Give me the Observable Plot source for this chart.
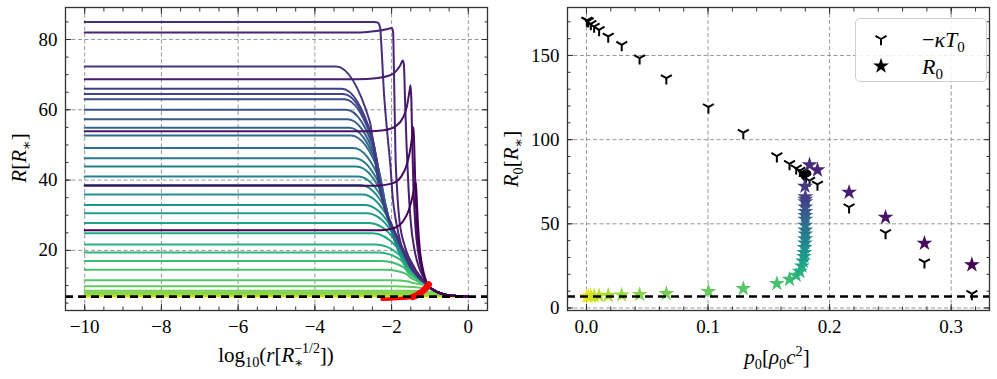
<!DOCTYPE html>
<html><head><meta charset="utf-8">
<script src="https://cdn.jsdelivr.net/npm/d3@7"></script>
<script src="https://cdn.jsdelivr.net/npm/@observablehq/plot@0.6"></script>
<style>
body{margin:0;background:#fff;}
#wrap{position:relative;width:997px;height:379px;font-family:"Liberation Serif","Times New Roman","DejaVu Serif",serif;color:#000;}
#wrap svg text{font-family:"Liberation Serif","Times New Roman","DejaVu Serif",serif !important;}
.panel{position:absolute;top:0;}
.lbl{position:absolute;font-size:21px;white-space:nowrap;line-height:1;}
.rot{transform:translate(-50%,-50%) rotate(-90deg);}
.ctr{transform:translate(-50%,-50%);}
sub,sup{font-size:0.68em;line-height:0;}
.stk{display:inline-flex;flex-direction:column;vertical-align:middle;line-height:1;font-size:0.66em;position:relative;top:-0.05em;}
#legend{position:absolute;left:855px;top:18px;width:130px;height:62px;border:1.5px solid #cfcfcf;border-radius:5px;background:rgba(255,255,255,0.85);}
#legend .row{position:absolute;left:0;height:24px;width:100%;}
#legend svg{position:absolute;left:13px;top:0;}
#legend span{position:absolute;left:66px;top:0px;font-size:22px;}
</style></head><body>
<div id="wrap"></div>
<script>
// ---------- data ----------
const p0 = [0.0003, 0.0014, 0.0036, 0.0063, 0.0104, 0.0179, 0.029, 0.0437, 0.0657, 0.1003, 0.129, 0.1566, 0.167, 0.1725, 0.1755, 0.1772, 0.1782, 0.1788, 0.1792, 0.1795, 0.1797, 0.1799, 0.18, 0.18, 0.18, 0.18, 0.18, 0.18, 0.18, 0.18, 0.18, 0.18, 0.1797, 0.1835, 0.190, 0.216, 0.246, 0.278, 0.317];
const R0 = [6.9, 6.95, 7.0, 7.1, 7.25, 7.45, 7.7, 8.0, 8.5, 9.8, 11.5, 14.5, 17.0, 19.4, 21.7, 24.9, 27.8, 30.6, 32.9, 35.9, 38.6, 41.0, 43.9, 46.2, 49.1, 52.7, 54.9, 57.3, 60.0, 63.0, 64.5, 66.0, 72.3, 85.0, 82.0, 68.7, 53.9, 38.4, 25.7];
const kappaT0 = [170.8, 170.4, 168.8, 167.2, 165.2, 161.3, 156.3, 148.4, 136.5, 119.3, 104.1, 90.2, 85.6, 83.0, 81.6, 80.7, 80.1, 79.7, 79.4, 79.2, 79.0, 78.9, 78.7, 78.6, 78.5, 78.4, 78.3, 78.2, 78.1, 78.0, 77.9, 77.8, 77.4, 75.7, 73.4, 59.9, 44.6, 27.2, 8.4];

// smooth profiles (indices 0..32): x where the plateau ends, and x at 75 %, 50 %, 25 % of the drop
const kneeX = [-0.8, -1.0, -1.2, -1.3, -1.4, -1.5, -1.6, -1.65, -1.75, -1.9, -2.0, -2.15, -2.25, -2.32, -2.4, -2.5, -2.58, -2.65, -2.7, -2.76, -2.82, -2.87, -2.92, -2.96, -3.0, -3.06, -3.1, -3.14, -3.18, -3.23, -3.26, -3.3, -3.45];
const drop75X = [-1.56, -1.63, -1.69, -1.74, -1.8, -1.88, -1.94, -2.0, -2.04, -2.1, -2.14, -2.17, -2.22, -2.25, -2.28, -2.32, -2.36, -2.39, -2.42, -2.46, -2.48, -2.5, -2.57];
const drop50X = [-1.45, -1.5, -1.55, -1.6, -1.65, -1.72, -1.78, -1.84, -1.88, -1.93, -1.97, -2.0, -2.04, -2.07, -2.1, -2.14, -2.17, -2.2, -2.23, -2.27, -2.29, -2.31, -2.37];
const drop25X = [-1.25, -1.3, -1.33, -1.36, -1.38, -1.42, -1.46, -1.5, -1.53, -1.56, -1.6, -1.62, -1.65, -1.67, -1.7, -1.73, -1.75, -1.77, -1.8, -1.83, -1.85, -1.87, -1.93];
const mergeR = 10.0;

// shared tail of all profiles
const tailX = [-1.05, -0.95, -0.8, -0.6, -0.4, -0.2, 0];
const tailR = [10.0, 9.0, 8.1, 7.4, 7.1, 6.95, 6.9];

// overshooting profiles (indices 33..38)
const spikeX = [
  [-10, -2.45, -2.36, -2.3, -2.27, -2.2, -2.1, -2.03, -1.97, -1.88, -1.75, -1.55, -1.3, -1.05],
  [-10, -2.8, -2.4, -2.1, -1.99, -1.96, -1.94, -1.92, -1.9, -1.86, -1.8, -1.65, -1.45, -1.25, -1.05],
  [-10, -2.9, -2.4, -2.1, -1.9, -1.78, -1.71, -1.68, -1.65, -1.61, -1.56, -1.5, -1.4, -1.28, -1.15, -1.05],
  [-10, -2.6, -2.2, -1.9, -1.7, -1.6, -1.53, -1.505, -1.485, -1.46, -1.43, -1.38, -1.3, -1.2, -1.05],
  [-10, -2.4, -2.0, -1.75, -1.6, -1.5, -1.45, -1.43, -1.41, -1.38, -1.34, -1.28, -1.18, -1.05],
  [-10, -2.3, -1.95, -1.7, -1.55, -1.45, -1.39, -1.37, -1.35, -1.32, -1.27, -1.2, -1.12, -1.05]
];
const spikeR = [
  [85, 85, 84.8, 83.5, 79, 65, 52, 44, 35, 28, 21.5, 16, 12.3, 10],
  [82, 82, 82.4, 83, 83.3, 82, 72, 60, 48, 38, 29, 21, 16, 12.3, 10],
  [68.7, 68.7, 69, 69.6, 70.8, 72.5, 74, 73, 63, 50, 38, 28, 20, 15, 12, 10],
  [53.9, 53.9, 54.2, 55.3, 57.8, 61, 65.5, 67, 63, 50, 38, 27, 19, 14, 10],
  [38.4, 38.4, 39.0, 41.0, 44.5, 49.5, 53.5, 55, 50, 38, 27, 19, 13.5, 10],
  [25.7, 25.7, 26.3, 28.3, 31.5, 35.5, 39.0, 39.4, 36, 29, 21, 15.5, 12, 10]
];

// red locus
const redThinX = [-2.25, -2.0, -1.75, -1.55, -1.42];
const redThinR = [6.1, 6.2, 6.35, 6.55, 6.8];
const redThickX = [-1.45, -1.35, -1.25, -1.15, -1.08, -1.03];
const redThickR = [6.75, 7.2, 7.9, 8.8, 9.6, 10.3];

const refLine = 6.85;

// axes ticks
const leftXMajor = [-10, -8, -6, -4, -2, 0];
const leftXMinor = d3.range(-10.5, 0.51, 0.5);
const leftYMajor = [20, 40, 60, 80];
const leftYMinor = d3.range(5, 89, 5);
const rightXMajor = [0, 0.1, 0.2, 0.3];
const rightXMinor = d3.range(-0.0, 0.331, 0.02);
const rightYMajor = [0, 50, 100, 150];
const rightYMinor = d3.range(0, 179, 10);

// ---------- build rows ----------
const N = R0.length;
const curveRows = [];
for (let i = 0; i < N; i++) {
  let xs = [], rs = [];
  if (i < kneeX.length) {
    const k = kneeX[i], r = R0[i];
    xs.push(-10, k); rs.push(r, r);
    const j = i - (kneeX.length - drop50X.length);
    if (j >= 0) {
      const h = r - mergeR;
      xs.push(drop75X[j], drop50X[j], drop25X[j]);
      rs.push(mergeR + 0.75 * h, mergeR + 0.5 * h, mergeR + 0.25 * h);
      tailX.forEach((x, t) => { xs.push(x); rs.push(tailR[t]); });
    } else {
      tailX.forEach((x, t) => {
        if (x > k + 0.1 && (tailR[t] < r || x === 0)) { xs.push(x); rs.push(Math.min(tailR[t], r)); }
      });
    }
  } else {
    const s = i - kneeX.length;
    xs = spikeX[s].slice(); rs = spikeR[s].slice();
    tailX.forEach((x, t) => { if (t > 0) { xs.push(x); rs.push(tailR[t]); } });
  }
  xs.forEach((x, t) => curveRows.push({i, x, R: rs[t]}));
}
const starRows = p0.map((p, i) => ({i, p, R: R0[i], k: kappaT0[i]}));
const redThin = redThinX.map((x, t) => ({x, R: redThinR[t]}));
const redThick = redThickX.map((x, t) => ({x, R: redThickR[t]}));

const colorSpec = {type: "linear", scheme: "viridis", domain: [0, N - 1], reverse: true};

const triDown = {draw(ctx, size) {
  const r = Math.sqrt(size / Math.PI);
  ctx.moveTo(0, 0); ctx.lineTo(0, r);
  ctx.moveTo(0, 0); ctx.lineTo(-r * 0.866, -r * 0.5);
  ctx.moveTo(0, 0); ctx.lineTo(r * 0.866, -r * 0.5);
}};

function axes(xMaj, xMin, yMaj, yMin, xFmt, yFmt) {
  const T = 6, t = 3.5, none = () => "";
  const m = [
    Plot.axisX(xMaj, {anchor: "bottom", tickSize: 0, tickPadding: 9, tickFormat: xFmt, label: null, fontSize: 19}),
    Plot.axisY(yMaj, {anchor: "left", tickSize: 0, tickPadding: 8, tickFormat: yFmt, label: null, fontSize: 19})
  ];
  for (const a of ["bottom", "top"]) {
    m.push(Plot.axisX(xMaj, {anchor: a, tickSize: -T, tickFormat: none, label: null, stroke: "#333"}));
    m.push(Plot.axisX(xMin, {anchor: a, tickSize: -t, tickFormat: none, label: null, stroke: "#333"}));
  }
  for (const a of ["left", "right"]) {
    m.push(Plot.axisY(yMaj, {anchor: a, tickSize: -T, tickFormat: none, label: null, stroke: "#333"}));
    m.push(Plot.axisY(yMin, {anchor: a, tickSize: -t, tickFormat: none, label: null, stroke: "#333"}));
  }
  return m;
}
const gridStyle = {stroke: "#8c8c8c", strokeOpacity: 1, strokeWidth: 0.9, strokeDasharray: "4,2.5"};
const minus = d => (d < 0 ? "\u2212" + Math.abs(d) : String(d));
const plotStyle = {fontFamily: "'Liberation Serif', 'DejaVu Serif', serif", fontSize: "19px", background: "transparent", color: "#000"};

const left = Plot.plot({
  width: 500, height: 379,
  marginLeft: 65, marginRight: 13, marginTop: 7, marginBottom: 69,
  style: plotStyle,
  x: {domain: [-10.5, 0.5]},
  y: {domain: [2.9, 89.1]},
  color: colorSpec,
  marks: [
    Plot.gridX(leftXMajor, gridStyle),
    Plot.gridY(leftYMajor, gridStyle),
    Plot.line(curveRows, {x: "x", y: "R", z: "i", stroke: "i", strokeWidth: 2, curve: "monotone-x"}),
    Plot.line(redThin, {x: "x", y: "R", stroke: "#ff0000", strokeWidth: 3.5, strokeLinecap: "round", curve: "monotone-x"}),
    Plot.line(redThick, {x: "x", y: "R", stroke: "#ff0000", strokeWidth: 6.5, strokeLinecap: "round", curve: "monotone-x"}),
    Plot.ruleY([refLine], {stroke: "#000", strokeWidth: 2.6, strokeDasharray: "8,5"}),
    Plot.frame({stroke: "#333", strokeWidth: 1.3}),
    ...axes(leftXMajor, leftXMinor, leftYMajor, leftYMinor, minus, d => String(d))
  ]
});

const right = Plot.plot({
  width: 497, height: 379,
  marginLeft: 67, marginRight: 8, marginTop: 7, marginBottom: 69,
  style: plotStyle,
  x: {domain: [-0.0156, 0.3315]},
  y: {domain: [-1.5, 178.5]},
  color: colorSpec,
  marks: [
    Plot.gridX(rightXMajor, gridStyle),
    Plot.gridY(rightYMajor, gridStyle),
    Plot.dot(starRows, {x: "p", y: "k", symbol: triDown, r: 6.3, stroke: "#000", fill: "none", strokeWidth: 2}),
    Plot.dot(starRows, {x: "p", y: "R", symbol: "star", r: 5, fill: "i", stroke: null}),
    Plot.ruleY([refLine], {stroke: "#000", strokeWidth: 2.6, strokeDasharray: "8,5"}),
    Plot.frame({stroke: "#333", strokeWidth: 1.3}),
    ...axes(rightXMajor, rightXMinor, rightYMajor, rightYMinor, d3.format(".1f"), d => String(d))
  ]
});

const wrap = document.getElementById("wrap");
left.classList.add("panel"); left.style.left = "0px";
right.classList.add("panel"); right.style.left = "500px";
wrap.append(left, right);

function label(html, x, y, cls) {
  const d = document.createElement("div");
  d.className = "lbl " + cls;
  d.style.left = x + "px"; d.style.top = y + "px";
  d.innerHTML = html;
  wrap.append(d);
}
label('<i>R</i>[<i>R</i><sub>\u2217</sub>]', 19, 158, "rot");
label('log<sub>10</sub>(<i>r</i>[<i>R</i><span class="stk"><span>\u22121/2</span><span>\u2217</span></span>])', 276, 357, "ctr");
label('<i>R</i><sub>0</sub>[<i>R</i><sub>\u2217</sub>]', 511, 159, "rot");
label('<i>p</i><sub>0</sub>[<i>\u03c1</i><sub>0</sub><i>c</i><sup>2</sup>]', 777, 357, "ctr");

// legend
const lg = document.createElement("div");
lg.id = "legend";
const starPath = d3.symbol(d3.symbolStar, Math.PI * 5 * 5)();
lg.innerHTML =
  '<div class="row" style="top:8px"><svg width="24" height="24" viewBox="-12 -12 24 24"><path d="M0,0L0,6.3M0,0L-5.5,-3.15M0,0L5.5,-3.15" stroke="#000" stroke-width="2" fill="none"/></svg><span>\u2212<i>\u03ba</i><i>T</i><sub>0</sub></span></div>' +
  '<div class="row" style="top:35px"><svg width="24" height="24" viewBox="-12 -12 24 24"><path d="' + starPath + '" fill="#000"/></svg><span><i>R</i><sub>0</sub></span></div>';
wrap.append(lg);
</script>
</body></html>
